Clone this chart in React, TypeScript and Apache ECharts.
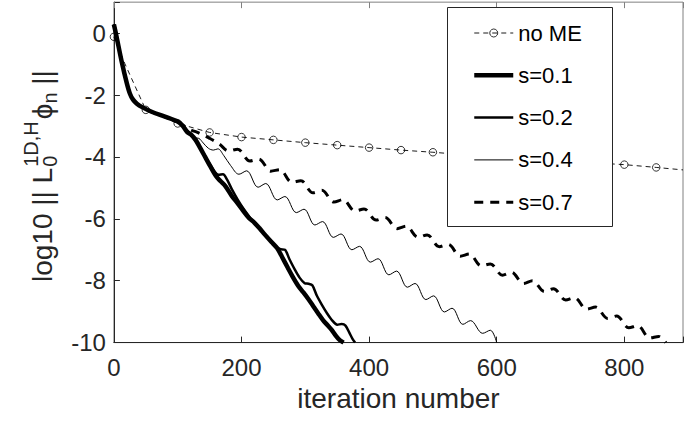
import React, { useEffect, useRef } from 'react';
import * as echarts from 'echarts';

const FONT = "'Liberation Sans', Arial, Helvetica, sans-serif";

// axis ticks
const xTicks = [0, 200, 400, 600, 800];
const yTicks = [-10, -8, -6, -4, -2, 0];
const seriesNames = ['no ME', 's=0.1', 's=0.2', 's=0.4', 's=0.7'];

// shared initial part of all s-curves
const startSegment: [number, number][] = [
  [0, 0.28], [4, -0.1], [12, -0.9], [20, -1.6], [25, -1.95], [30, -2.15], [36, -2.28],
  [45, -2.4], [60, -2.55], [80, -2.7], [100, -2.86],
];

const noME: [number, number][] = [
  [0, -0.12], [17, -0.98], [50, -2.48], [100, -2.92], [150, -3.21], [200, -3.36], [250, -3.45],
  [300, -3.54], [350, -3.62], [400, -3.7], [450, -3.78], [500, -3.85], [550, -3.93], [600, -4.0],
  [650, -4.07], [700, -4.13], [750, -4.19], [800, -4.25], [850, -4.34], [892, -4.42],
];

const s01Tail: [number, number][] = [
  [108, -3.0], [115, -3.2], [121, -3.28], [128, -3.45], [135, -3.7], [143, -4.0], [151, -4.3],
  [160, -4.62], [167, -4.78], [175, -4.95], [185, -5.27], [194, -5.5], [203, -5.75], [212, -5.98],
  [220, -6.12], [228, -6.3], [237, -6.52], [247, -6.75], [256, -6.95], [264, -7.25], [273, -7.6],
  [281, -7.9], [289, -8.17], [297, -8.38], [305, -8.6], [313, -8.84], [320, -9.05], [328, -9.28],
  [335, -9.44], [341, -9.58], [348, -9.78], [354, -9.92], [360, -10.0],
];

const s02Tail: [number, number][] = [
  [108, -2.98], [115, -3.15], [122, -3.3], [129, -3.5], [136, -3.72], [143, -3.98], [150, -4.22],
  [157, -4.45], [164, -4.58], [171, -4.56], [177, -4.72], [185, -5.05], [194, -5.38], [204, -5.7],
  [214, -5.98], [224, -6.22], [234, -6.45], [244, -6.68], [253, -6.88], [261, -6.98], [268, -7.0],
  [275, -7.3], [283, -7.62], [291, -7.9], [299, -8.08], [305, -8.1], [311, -8.15], [318, -8.48],
  [326, -8.78], [334, -9.05], [342, -9.28], [350, -9.42], [357, -9.4], [363, -9.45], [369, -9.68],
  [374, -9.88], [378, -10.0],
];

const s04Tail: [number, number][] = [
  [110, -3.08], [118, -3.28], [126, -3.38], [133, -3.4], [140, -3.55], [148, -3.72], [156, -3.78],
  [163, -3.74], [172, -3.95], [183, -4.28], [196, -4.56], [208, -4.45], [226, -4.98], [238, -4.86],
  [256, -5.39], [268, -5.28], [286, -5.8], [298, -5.69], [315, -6.2], [327, -6.09], [344, -6.6],
  [356, -6.49], [373, -7.0], [385, -6.89], [402, -7.4], [414, -7.29], [431, -7.81], [443, -7.69],
  [460, -8.21], [472, -8.09], [489, -8.61], [501, -8.49], [518, -9.01], [530, -8.89], [547, -9.41],
  [559, -9.29], [578, -9.7], [590, -9.6], [600, -10.0],
];

const s07Tail: [number, number][] = [
  [110, -3.0], [120, -3.12], [130, -3.2], [140, -3.3], [150, -3.4], [165, -3.58], [180, -3.81],
  [194, -3.75], [213, -4.13], [227, -4.07], [246, -4.46], [260, -4.41], [279, -4.82], [293, -4.77],
  [312, -5.16], [326, -5.08], [345, -5.46], [359, -5.38], [378, -5.75], [392, -5.68], [411, -6.04],
  [425, -5.96], [444, -6.32], [458, -6.24], [477, -6.6], [491, -6.52], [510, -6.9], [524, -6.83],
  [543, -7.21], [557, -7.14], [576, -7.52], [590, -7.46], [609, -7.82], [623, -7.73], [642, -8.09],
  [656, -8.0], [675, -8.35], [689, -8.26], [708, -8.62], [722, -8.55], [741, -8.92], [755, -8.85],
  [774, -9.22], [788, -9.14], [807, -9.52], [821, -9.46], [840, -9.85], [854, -9.8], [865, -10.0],
];

const s01 = [...startSegment, ...s01Tail];
const s02 = [...startSegment, ...s02Tail];
const s04 = [...startSegment, ...s04Tail];
const s07 = [...startSegment, ...s07Tail];

export default function App() {
  const ref = useRef<HTMLDivElement>(null);

  useEffect(() => {
    if (!ref.current) return;
    const chart = echarts.init(ref.current, undefined, { renderer: 'svg' });

    const ctx = document.createElement('canvas').getContext('2d') as CanvasRenderingContext2D;
    const tw = (t: string, fs: number) => {
      ctx.font = `${fs}px ${FONT}`;
      return ctx.measureText(t).width;
    };
    const MAIN = 28;
    const SMALL = 20;
    const pieces: { t: string; x: number; y: number; fs: number }[] = [];
    let px = 0;
    pieces.push({ t: 'log10 || L', x: px, y: 0, fs: MAIN });
    px += tw('log10 || L', MAIN) + 1;
    pieces.push({ t: '0', x: px, y: 8, fs: SMALL });
    pieces.push({ t: '1D,H', x: px, y: -11, fs: SMALL });
    px += Math.max(tw('0', SMALL), tw('1D,H', SMALL)) + 2;
    pieces.push({ t: 'ϕ', x: px, y: 0, fs: MAIN });
    px += tw('ϕ', MAIN);
    pieces.push({ t: 'n', x: px, y: 8, fs: SMALL });
    px += tw('n', SMALL);
    pieces.push({ t: ' ||', x: px, y: 0, fs: MAIN });

    const axisColor = '#262626';
    const hiddenSymbol = { color: 'rgba(0,0,0,0)', borderColor: 'rgba(0,0,0,0)', borderWidth: 0, opacity: 0 };

    const option: any = {
      animation: false,
      grid: {
        left: 113.9, right: -2, top: 2.15, bottom: 85.4,
        show: true, borderColor: '#808080', borderWidth: 1, backgroundColor: 'transparent',
      },
      xAxis: [
        {
          type: 'value', min: 0, max: 892, interval: 200, position: 'bottom',
          axisLine: { show: true, onZero: false, lineStyle: { color: axisColor, width: 1 } },
          axisTick: { show: true, inside: true, length: 6, lineStyle: { color: axisColor } },
          axisLabel: {
            fontSize: 24, color: axisColor, margin: 13, fontFamily: FONT,
            formatter: (v: number) => (xTicks.includes(v) ? String(v) : ''),
          },
          splitLine: { show: false },
          name: 'iteration number', nameLocation: 'middle', nameGap: 40,
          nameTextStyle: { fontSize: 28, color: axisColor, fontFamily: FONT },
        },
        {
          type: 'value', min: 0, max: 892, interval: 200, position: 'top',
          axisLine: { show: false, onZero: false },
          axisTick: { show: true, inside: true, length: 6, lineStyle: { color: '#808080' } },
          axisLabel: { show: false },
          splitLine: { show: false },
        },
      ],
      yAxis: [
        {
          type: 'value', min: -10, max: 1, interval: 2,
          axisLine: { show: true, onZero: false, lineStyle: { color: axisColor, width: 1 } },
          axisTick: { show: true, inside: true, length: 6, lineStyle: { color: axisColor } },
          axisLabel: {
            fontSize: 24, color: axisColor, margin: 8, fontFamily: FONT,
            formatter: (v: number) => (yTicks.includes(v) ? String(v) : ''),
          },
          splitLine: { show: false },
        },
      ],
      legend: {
        orient: 'vertical', left: 472, top: 22, itemWidth: 39, itemHeight: 10, itemGap: 20.3,
        padding: 0, selectedMode: false, z: 5,
        data: seriesNames.map((n, i) => (i === 0 ? { name: n } : { name: n, itemStyle: hiddenSymbol })),
        textStyle: { fontSize: 22, lineHeight: 22, color: '#000', fontFamily: FONT },
        lineStyle: { width: 'inherit' },
        itemStyle: { borderWidth: 'inherit' },
      },
      graphic: [
        {
          type: 'rect', z: 3,
          shape: { x: 447.5, y: 7.5, width: 165, height: 219 },
          style: { fill: '#fff', stroke: axisColor, lineWidth: 1 },
        },
        {
          type: 'group', x: 42, y: 282, rotation: Math.PI / 2,
          children: pieces.map((p) => ({
            type: 'text', x: p.x, y: p.y,
            style: {
              text: p.t, fontSize: p.fs, fontFamily: FONT, fill: axisColor,
              align: 'left', verticalAlign: 'middle', textAlign: 'left', textVerticalAlign: 'middle',
            },
          })),
        },
      ],
      series: [
        {
          name: 'no ME', type: 'line', data: noME, z: 2,
          symbol: 'circle',
          symbolSize: (v: number[]) => (v[0] % 50 === 0 ? 7.5 : 0),
          itemStyle: { color: 'rgba(0,0,0,0)', borderColor: '#000', borderWidth: 0.8 },
          lineStyle: { color: '#000', width: 0.9, type: [5, 4] },
        },
        {
          name: 's=0.1', type: 'line', data: s01, symbol: 'none', smooth: 0.3, z: 2,
          itemStyle: { color: '#000' },
          lineStyle: { color: '#000', width: 4.5 },
        },
        {
          name: 's=0.2', type: 'line', data: s02, symbol: 'none', smooth: 0.3, z: 2,
          itemStyle: { color: '#000' },
          lineStyle: { color: '#000', width: 2.5 },
        },
        {
          name: 's=0.4', type: 'line', data: s04, symbol: 'none', smooth: 0.35, z: 2,
          itemStyle: { color: '#000' },
          lineStyle: { color: '#000', width: 1 },
        },
        {
          name: 's=0.7', type: 'line', data: s07, symbol: 'none', smooth: 0.35, z: 2,
          itemStyle: { color: '#000' },
          lineStyle: { color: '#000', width: 3, type: [9, 7] },
        },
      ],
    };

    chart.setOption(option);
    return () => chart.dispose();
  }, []);

  return (
    <div
      ref={ref}
      style={{ position: 'fixed', left: 0, top: 0, width: 686, height: 428, background: '#fff' }}
    />
  );
}
